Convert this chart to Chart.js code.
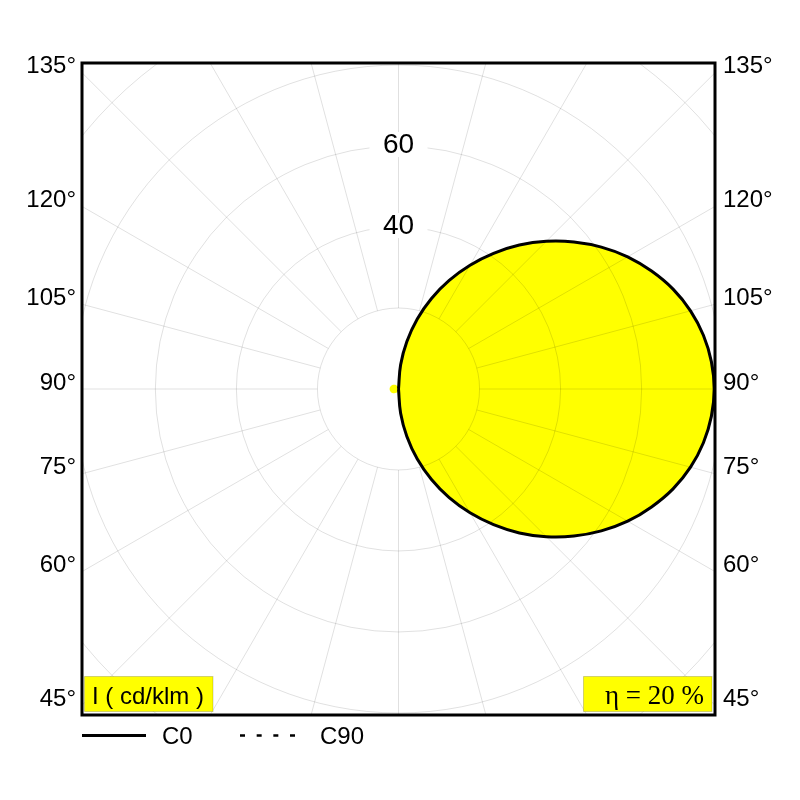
<!DOCTYPE html>
<html>
<head>
<meta charset="utf-8">
<script src="https://cdn.jsdelivr.net/npm/chart.js@4/dist/chart.umd.min.js"></script>
<style>
  html, body { margin: 0; padding: 0; background: #fff; }
  canvas { display: block; }
</style>
</head>
<body>
<canvas id="c" width="800" height="800"></canvas>
<script>
// ---- data (angles in degrees, 0° = straight down; intensities in cd/klm) ----
const c0Angles = [0,5,10,15,20,25,30,35,40,45,50,55,60,65,70,75,80,85,90,
                  95,100,105,110,115,120,125,130,135,140,145,150,155,160,165,170,175,180];
const c0Values = [0,6.0,11.9,17.9,23.8,29.6,35.3,40.9,46.4,51.6,56.5,61.1,65.3,68.9,72.1,74.6,76.4,77.5,77.9,
                  77.5,76.4,74.6,72.1,68.9,65.3,61.1,56.5,51.6,46.4,40.9,35.3,29.6,23.8,17.9,11.9,6.0,0];
const c90Angles = [0,15,30,45,60,75,90,105,120,135,150,165,180];
const c90Values = [0,0.6,1.1,1.5,1.9,2.1,2.2,2.1,1.9,1.5,1.1,0.6,0];
const ringValues = [20,40,60,80,100];
const ringLabelValues = [40,60];
const spokeAngles = [0,15,30,45,60,75,90,105,120,135,150,165,180,195,210,225,240,255,270,285,300,315,330,345];
const sideAngleLabels = [45,60,75,90,105,120,135];
const seriesNames = ['C0','C90'];
const unitLabel = 'I ( cd/klm )';
const efficiencyLabel = 'η = 20 %';
const xHalfRange = 78.1;
const yHalfRange = 80.5;

const rad = d => d * Math.PI / 180;
// C0 plane drawn on the right half, C90 plane on the left half
const c0Points = c0Angles.map((a, i) => ({x: c0Values[i] * Math.sin(rad(a)), y: -c0Values[i] * Math.cos(rad(a))}));
const c90Points = c90Angles.map((a, i) => ({x: -c90Values[i] * Math.sin(rad(a)), y: -c90Values[i] * Math.cos(rad(a))}));

const SANS = '"Liberation Sans", Arial, Helvetica, sans-serif';
const SERIF = '"Liberation Serif", "Times New Roman", serif';

const polarPlugin = {
  id: 'polarGrid',
  afterDatasetsDraw(chart) {
    const {ctx, chartArea: a, scales: {x, y}} = chart;
    const cx = x.getPixelForValue(0), cy = y.getPixelForValue(0);
    ctx.save();
    ctx.beginPath(); ctx.rect(a.left, a.top, a.right - a.left, a.bottom - a.top); ctx.clip();
    ctx.strokeStyle = 'rgba(0,0,0,0.12)';
    ctx.lineWidth = 1;
    ringValues.forEach(v => {
      const rx = x.getPixelForValue(v) - cx;
      const ry = cy - y.getPixelForValue(v);
      ctx.beginPath(); ctx.ellipse(cx, cy, rx, ry, 0, 0, Math.PI * 2); ctx.stroke();
    });
    const r0 = ringValues[0], r1 = 300;
    spokeAngles.forEach(d => {
      const t = rad(d);
      ctx.beginPath();
      ctx.moveTo(x.getPixelForValue(r0 * Math.sin(t)), y.getPixelForValue(-r0 * Math.cos(t)));
      ctx.lineTo(x.getPixelForValue(r1 * Math.sin(t)), y.getPixelForValue(-r1 * Math.cos(t)));
      ctx.stroke();
    });
    ctx.font = '28px ' + SANS;
    ctx.textAlign = 'center';
    ctx.textBaseline = 'middle';
    ringLabelValues.forEach(v => {
      const py = y.getPixelForValue(v);
      ctx.fillStyle = '#fff';
      ctx.fillRect(cx - 29, py - 14, 58, 25);
      ctx.fillStyle = '#000';
      ctx.fillText(String(v), cx, py - 1);
    });
    ctx.restore();
  },
  afterDraw(chart) {
    const {ctx, chartArea: a, scales: {x, y}} = chart;
    ctx.save();
    // frame
    ctx.strokeStyle = '#000';
    ctx.lineWidth = 3;
    ctx.strokeRect(a.left, a.top, a.right - a.left, a.bottom - a.top);
    // side angle labels
    ctx.fillStyle = '#000';
    ctx.font = '24px ' + SANS;
    ctx.textBaseline = 'alphabetic';
    sideAngleLabels.forEach(d => {
      const yv = xHalfRange * Math.tan(rad(d - 90));
      const py = y.getPixelForValue(yv) + 0.5;
      ctx.textAlign = 'right';
      ctx.fillText(d + '°', a.left - 6, py);
      ctx.textAlign = 'left';
      ctx.fillText(d + '°', a.right + 8, py);
    });
    // info boxes
    ctx.fillStyle = '#ffff00';
    ctx.strokeStyle = 'rgba(0,0,0,0.18)';
    ctx.lineWidth = 1;
    ctx.fillRect(84.5, 676.5, 128.5, 35);
    ctx.strokeRect(84.5, 676.5, 128.5, 35);
    ctx.fillRect(583.5, 676.5, 128.5, 35);
    ctx.strokeRect(583.5, 676.5, 128.5, 35);
    ctx.fillStyle = '#000';
    ctx.textAlign = 'left';
    ctx.font = '24px ' + SANS;
    ctx.fillText(unitLabel, 92, 704);
    ctx.font = '27px ' + SERIF;
    ctx.textAlign = 'right';
    ctx.fillText(efficiencyLabel, 704, 704);
    // legend
    const ly = 735.5;
    ctx.strokeStyle = '#000';
    ctx.lineWidth = 3;
    ctx.beginPath(); ctx.moveTo(82, ly); ctx.lineTo(146, ly); ctx.stroke();
    ctx.lineWidth = 2.5;
    ctx.setLineDash([5, 11.67]);
    ctx.beginPath(); ctx.moveTo(240, ly); ctx.lineTo(296, ly); ctx.stroke();
    ctx.setLineDash([]);
    ctx.font = '24px ' + SANS;
    ctx.textAlign = 'left';
    ctx.fillText(seriesNames[0], 162, 744);
    ctx.fillText(seriesNames[1], 320, 744);
    ctx.restore();
  }
};

new Chart(document.getElementById('c'), {
  type: 'line',
  data: {
    datasets: [
      {
        label: seriesNames[0],
        data: c0Points,
        borderColor: '#000',
        borderWidth: 3,
        borderJoinStyle: 'round',
        backgroundColor: '#ffff00',
        fill: 'shape',
        pointRadius: 0,
        tension: 0.4
      },
      {
        label: seriesNames[1],
        data: c90Points,
        borderColor: 'rgba(0,0,0,0)',
        borderWidth: 0,
        borderDash: [5, 11.67],
        backgroundColor: '#ffff00',
        fill: 'shape',
        pointRadius: 0,
        tension: 0.4
      }
    ]
  },
  options: {
    responsive: false,
    animation: false,
    devicePixelRatio: 1,
    layout: { padding: { left: 82, right: 85, top: 63, bottom: 85 } },
    plugins: { legend: { display: false }, tooltip: { enabled: false }, title: { display: false } },
    scales: {
      x: { type: 'linear', min: -xHalfRange, max: xHalfRange, display: false },
      y: { type: 'linear', min: -yHalfRange, max: yHalfRange, display: false }
    }
  },
  plugins: [polarPlugin]
});
</script>
</body>
</html>
